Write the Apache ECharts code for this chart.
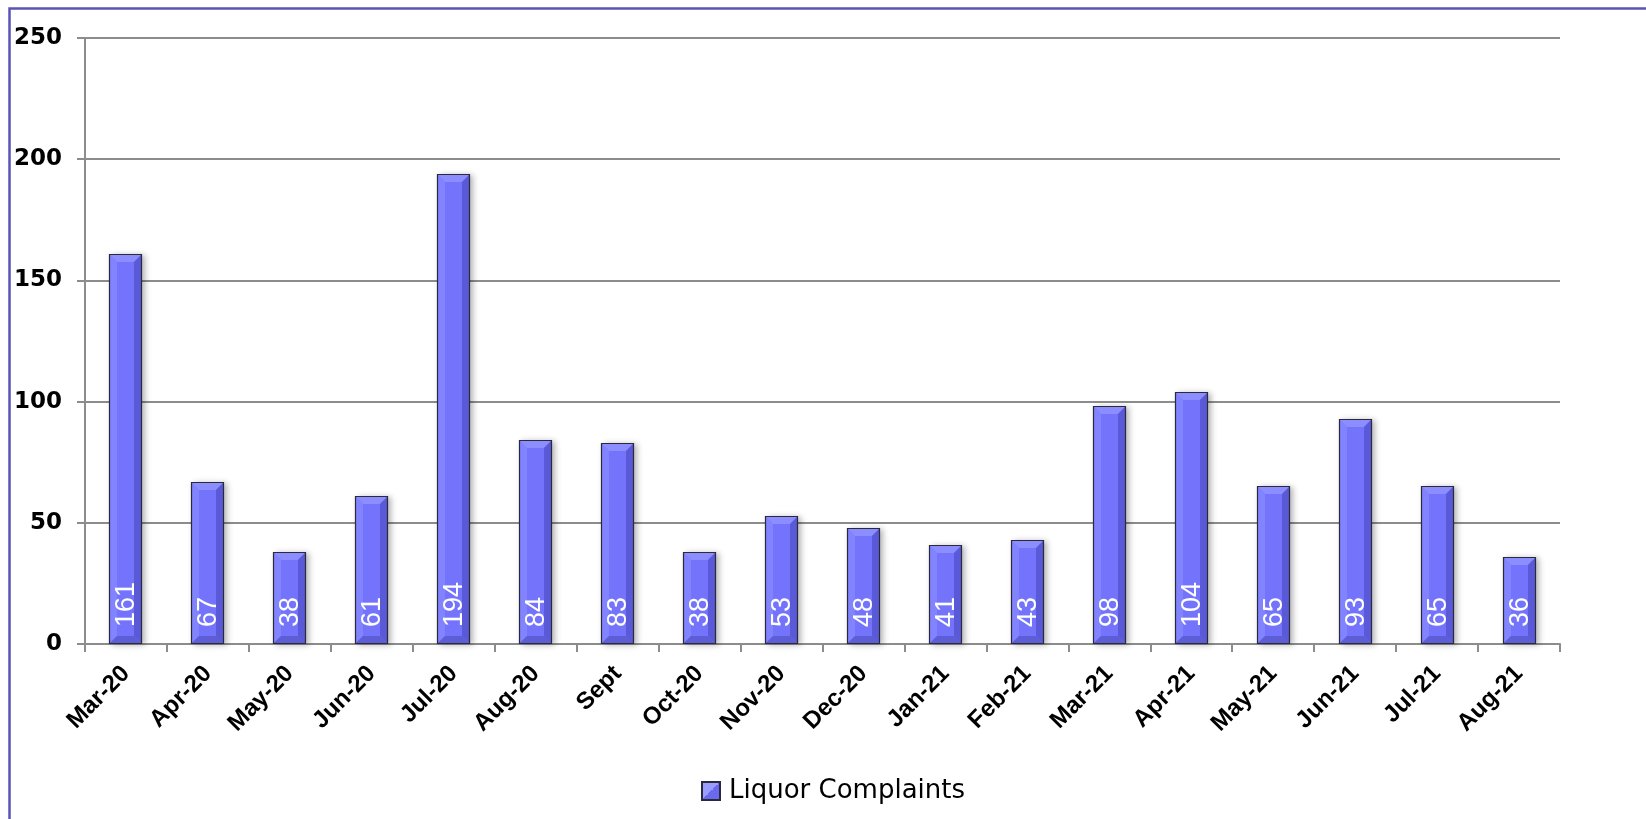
<!DOCTYPE html>
<html>
<head>
<meta charset="utf-8">
<script src="https://cdn.jsdelivr.net/npm/echarts@6/dist/echarts.min.js"></script>
<style>
  html, body { margin: 0; padding: 0; background: #ffffff; }
  #chart { width: 1646px; height: 819px; }
</style>
</head>
<body>
<div id="chart"></div>
<script>
// Monthly liquor complaints
const months = ['Mar-20', 'Apr-20', 'May-20', 'Jun-20', 'Jul-20', 'Aug-20', 'Sept', 'Oct-20', 'Nov-20',
                'Dec-20', 'Jan-21', 'Feb-21', 'Mar-21', 'Apr-21', 'May-21', 'Jun-21', 'Jul-21', 'Aug-21'];
const complaints = [161, 67, 38, 61, 194, 84, 83, 38, 53, 48, 41, 43, 98, 104, 65, 93, 65, 36];
const seriesName = 'Liquor Complaints';
const yMin = 0, yMax = 250, yStep = 50;

const chart = echarts.init(document.getElementById('chart'), null, { renderer: 'canvas' });

// Bevelled bar: face, four bevel strips, outline and a rotated value label
function renderBevelBar(params, api) {
  const idx = api.value(0);
  const val = api.value(1);
  const top = api.coord([idx, val]);
  const base = api.coord([idx, 0]);
  const band = api.size([1, 0])[0];
  const w = Math.round(band * 0.4);
  const x = Math.round(top[0] - w / 2);
  const y = Math.round(top[1]);
  const yb = Math.round(base[1]);
  const h = yb - y;
  const b = Math.min(8, h / 2);
  return {
    type: 'group',
    children: [
      { type: 'rect', shape: { x: x, y: y, width: w, height: h },
        style: { fill: '#7373fc', shadowBlur: 6, shadowOffsetX: 3, shadowOffsetY: 1, shadowColor: 'rgba(0,0,0,0.30)' } },
      { type: 'polygon', shape: { points: [[x, y], [x + w, y], [x + w - b, y + b], [x + b, y + b]] },
        style: { fill: '#8c8eff' } },
      { type: 'polygon', shape: { points: [[x, y], [x + b, y + b], [x + b, yb - b], [x, yb]] },
        style: { fill: '#8183ff' } },
      { type: 'polygon', shape: { points: [[x + w, y], [x + w, yb], [x + w - b, yb - b], [x + w - b, y + b]] },
        style: { fill: '#5a5ad8' } },
      { type: 'polygon', shape: { points: [[x, yb], [x + b, yb - b], [x + w - b, yb - b], [x + w, yb]] },
        style: { fill: '#5d5dd6' } },
      { type: 'rect', shape: { x: x + 0.5, y: y + 0.5, width: w - 1, height: h - 1 },
        style: { fill: null, stroke: '#2a2a3a', lineWidth: 1.2 } },
      { type: 'text', x: x + w / 2 + 1, y: yb - 17, rotation: Math.PI / 2,
        style: { text: String(val), fill: '#ffffff', font: '27px "Liberation Sans", Arial, sans-serif',
                 align: 'left', verticalAlign: 'middle' } }
    ]
  };
}

chart.setOption({
  backgroundColor: '#ffffff',
  animation: false,
  graphic: [
    { type: 'rect', left: 7, top: 6, shape: { width: 1680, height: 840 },
      style: { fill: null, stroke: '#5a53b8', lineWidth: 2.5 }, z: 100, silent: true }
  ],
  grid: { left: 85, right: 86, top: 38, bottom: 175 },
  legend: {
    data: [{ name: seriesName, icon: 'rect' }],
    left: 696,
    top: 773,
    itemWidth: 18,
    itemHeight: 18,
    itemGap: 10,
    textStyle: { fontFamily: '"DejaVu Sans", sans-serif', fontSize: 26, color: '#000000', padding: [0, 0, 0, 4] }
  },
  xAxis: {
    type: 'category',
    data: months,
    boundaryGap: true,
    axisLine: { show: true, lineStyle: { color: '#8c8c8c', width: 2 } },
    axisTick: { show: true, length: 8, alignWithLabel: false, lineStyle: { color: '#8c8c8c', width: 2 } },
    axisLabel: {
      interval: 0,
      rotate: 45,
      margin: 26,
      color: '#000000',
      fontFamily: '"Liberation Sans", Arial, sans-serif',
      fontWeight: 'bold',
      fontSize: 24
    },
    splitLine: { show: false }
  },
  yAxis: {
    type: 'value',
    min: yMin,
    max: yMax,
    interval: yStep,
    axisLine: { show: true, lineStyle: { color: '#8c8c8c', width: 2 } },
    axisTick: { show: true, length: 8, lineStyle: { color: '#8c8c8c', width: 2 } },
    axisLabel: {
      margin: 23,
      color: '#000000',
      fontFamily: '"DejaVu Sans", sans-serif',
      fontWeight: 'bold',
      fontSize: 23
    },
    splitLine: { show: true, lineStyle: { color: '#8c8c8c', width: 2 } }
  },
  series: [{
    name: seriesName,
    type: 'custom',
    renderItem: renderBevelBar,
    encode: { x: 0, y: 1 },
    itemStyle: {
      color: new echarts.graphic.LinearGradient(0, 0, 1, 1, [
        { offset: 0, color: '#9c9eff' },
        { offset: 0.5, color: '#9c9eff' },
        { offset: 0.5, color: '#6a6af0' },
        { offset: 1, color: '#6a6af0' }
      ]),
      borderColor: '#2a2a3a',
      borderWidth: 1
    },
    data: complaints.map((v, i) => [i, v]),
    z: 3
  }]
});
</script>
</body>
</html>
